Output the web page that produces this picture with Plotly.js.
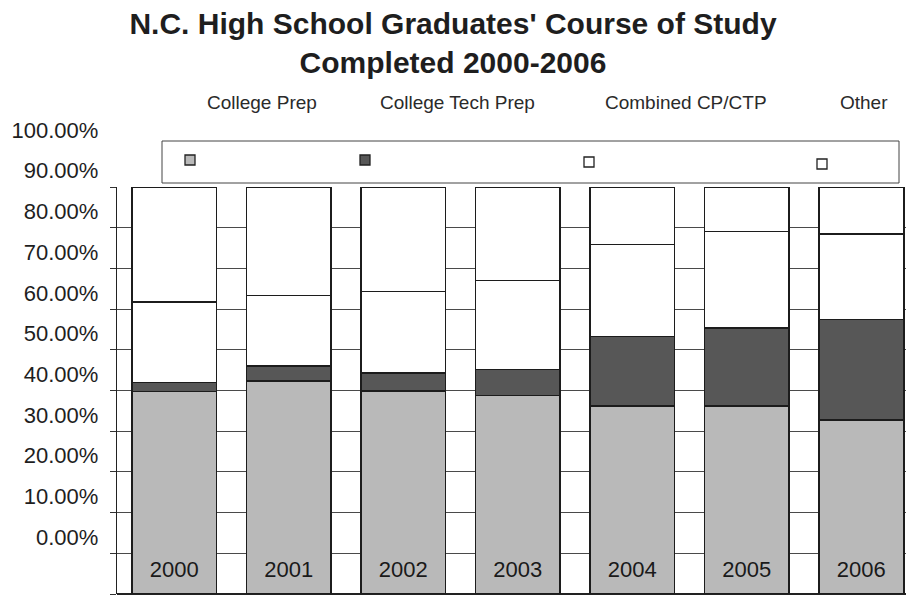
<!DOCTYPE html>
<html>
<head>
<meta charset="utf-8">
<script src="https://cdn.plot.ly/plotly-3.0.1.min.js"></script>
<style>html,body{margin:0;padding:0;background:#fff;}#chart{width:907px;height:599px;}</style>
</head>
<body>
<div id="chart"></div>
<script>
// Data (percent of graduates)
var years = ['2000', '2001', '2002', '2003', '2004', '2005', '2006'];
var seriesNames = ['College Prep', 'College Tech Prep', 'Combined CP/CTP', 'Other'];
var collegePrep     = [49.8, 52.3, 49.9, 48.8, 46.2, 46.2, 42.8];
var collegeTechPrep = [2.2, 3.7, 4.4, 6.4, 17.1, 19.1, 24.6];
var combinedCpCtp   = [19.7, 17.3, 20.0, 21.8, 22.6, 23.8, 21.1];
var other           = [28.3, 26.7, 25.7, 23.0, 14.1, 10.9, 11.5];
var yTickVals  = [0, 10, 20, 30, 40, 50, 60, 70, 80, 90, 100];
var yTickText  = ['0.00%', '10.00%', '20.00%', '30.00%', '40.00%', '50.00%', '60.00%', '70.00%', '80.00%', '90.00%', '100.00%'];

var W = 907, H = 599;
var L = 117, R = 1, T = 187, B = 5;
var pw = W - L - R, ph = H - T - B;
function px(x) { return (x - L) / pw; }
function py(y) { return (H - B - y) / ph; }

var fills = ['#b9b9b9', '#575757', '#ffffff', '#ffffff'];
var vals = [collegePrep, collegeTechPrep, combinedCpCtp, other];
var font = '"Liberation Sans", Arial, sans-serif';

var traces = vals.map(function (v, i) {
  return {
    type: 'bar', x: years, y: v, name: seriesNames[i],
    marker: { color: fills[i], line: { color: '#1c1c1c', width: 1.6 } },
    showlegend: false,
    hovertemplate: '%{x} ' + seriesNames[i] + ': %{y:.1f}%<extra></extra>'
  };
});

// legend (box with swatches and names above, as in the reference)
var swatchX = [190, 365, 589, 822];
var swatchY = [160, 160, 162, 164];
var labelX = [205, 378, 603, 838];
var shapes = [{
  type: 'rect', xref: 'paper', yref: 'paper',
  x0: px(162), x1: px(899), y0: py(141), y1: py(183),
  line: { color: '#444', width: 1 }, fillcolor: 'rgba(0,0,0,0)', layer: 'above'
}];
var annotations = [];
for (var i = 0; i < 4; i++) {
  shapes.push({
    type: 'rect', xref: 'paper', yref: 'paper',
    x0: px(swatchX[i] - 5), x1: px(swatchX[i] + 5),
    y0: py(swatchY[i] + 5), y1: py(swatchY[i] - 5),
    line: { color: '#222', width: 1.3 }, fillcolor: fills[i], layer: 'above'
  });
  annotations.push({
    xref: 'paper', yref: 'paper', x: px(labelX[i]), y: py(102),
    xanchor: 'left', yanchor: 'middle', showarrow: false,
    text: seriesNames[i], font: { family: font, size: 19, color: '#2a2a2a' }
  });
}

var layout = {
  width: W, height: H,
  margin: { l: L, r: R, t: T, b: B, pad: 0 },
  paper_bgcolor: '#fff', plot_bgcolor: '#fff',
  barmode: 'stack', bargap: 0.26,
  font: { family: font, color: '#222' },
  title: {
    text: "<b>N.C. High School Graduates' Course of Study<br>Completed 2000-2006</b>",
    xref: 'container', x: 453 / W, xanchor: 'center',
    yref: 'container', y: 1 - 34 / H, yanchor: 'top',
    font: { family: font, size: 30, color: '#1e1e1e' }
  },
  xaxis: {
    type: 'category', range: [-0.5, 6.39], automargin: false,
    anchor: 'free', position: py(554),
    showline: false, ticks: '', ticklabelstandoff: 0,
    tickfont: { family: font, size: 22, color: '#1a1a1a' },
    showgrid: false, fixedrange: true
  },
  yaxis: {
    range: [0, 100], automargin: false,
    tickvals: yTickVals, ticktext: yTickText,
    showline: true, linecolor: '#222', linewidth: 1.2,
    ticks: 'outside', ticklen: 6, tickcolor: '#333',
    ticklabelshift: -57, ticklabelstandoff: 7,
    tickfont: { family: font, size: 22, color: '#1e1e1e' },
    showgrid: true, gridcolor: '#4a4a4a', gridwidth: 1,
    zeroline: true, zerolinecolor: '#222', zerolinewidth: 1.2,
    fixedrange: true
  },
  shapes: shapes,
  annotations: annotations
};

Plotly.newPlot('chart', traces, layout, { displayModeBar: false, staticPlot: true });
</script>
</body>
</html>
